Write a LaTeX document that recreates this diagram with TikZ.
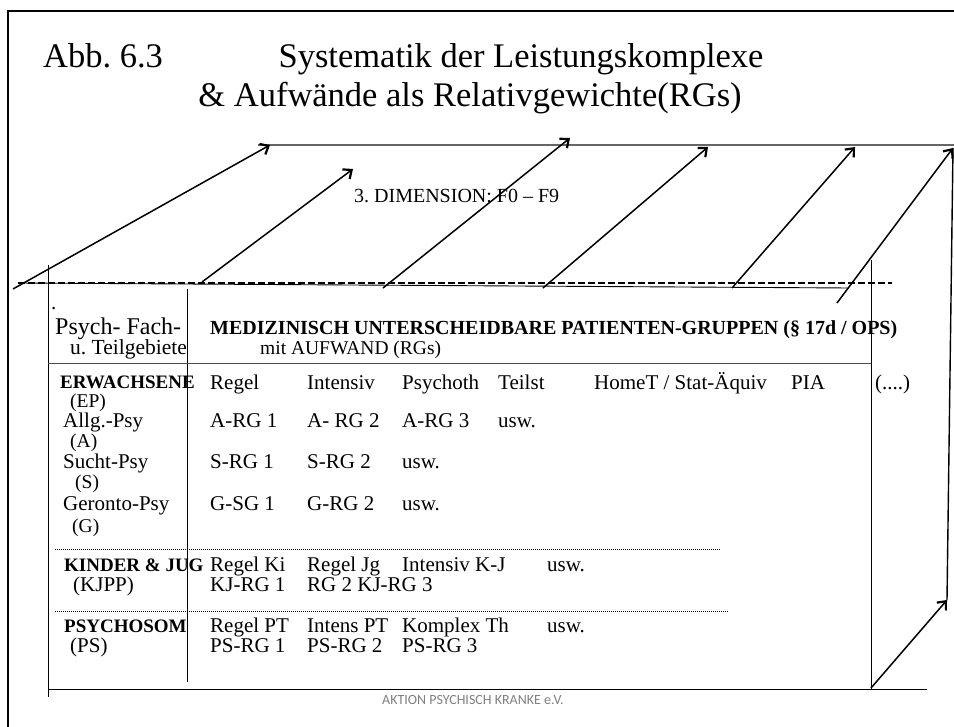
\documentclass[tikz,border=0pt]{standalone}
\usepackage{fontspec}
\setmainfont{Liberation Serif}
\newfontfamily\footfont{Carlito}
\usetikzlibrary{arrows.meta}
\frenchspacing
\begin{document}
\frenchspacing
\begin{tikzpicture}[x=1pt,y=-1pt,
  txt/.style={anchor=base west,inner sep=0pt,font=\fontsize{21}{25}\selectfont},
  sub/.style={anchor=base west,inner sep=0pt,font=\fontsize{19.5}{23}\selectfont},
  bld/.style={anchor=base west,inner sep=0pt,font=\bfseries\fontsize{19}{23}\selectfont},
  ttl/.style={anchor=base,inner sep=0pt,font=\fontsize{34.5}{40}\selectfont},
  arr/.style={line width=1.5pt,-{Straight Barb[length=7pt,width=12pt,line width=2.2pt]}},
  boxline/.style={line width=0.9pt},
  dotline/.style={line width=1pt,dash pattern=on 1pt off 1pt},
  dashline/.style={line width=1.8pt,dash pattern=on 7pt off 3pt},
  fold/.style={line width=1.4pt}]
\useasboundingbox (0,0) rectangle (954,727);
\fill[white] (0,0) rectangle (954,727);
% frame
\draw[line width=2.6pt] (8,727) -- (8,11) -- (954,11);
% title
\node[ttl,anchor=base west] (abb) at (43,68) {Abb. 6.3};
\node[ttl] (t1) at (521,68) {Systematik der Leistungskomplexe};
\node[ttl] (t2) at (470,107) {\& Aufwände als Relativgewichte(RGs)};
% third dimension
\node[anchor=base west,inner sep=0pt,font=\fontsize{20}{24}\selectfont] (dim) at (354,203) {3. DIMENSION: F0 – F9};
% top (back) edge
\draw[gray!80!black,line width=1.8pt] (258,145) -- (954,145);
% coordinates for arrows
\coordinate (s1) at (13,289);  \coordinate (e1) at (270,145);
\coordinate (s2) at (202,282); \coordinate (e2) at (353,169);
\coordinate (s3) at (383,288); \coordinate (e3) at (570,138);
\coordinate (s4) at (543,288); \coordinate (e4) at (708,147);
\coordinate (s5) at (732,288); \coordinate (e5) at (855,147);
\coordinate (s6) at (837,303); \coordinate (e6) at (953,148);
\coordinate (s7) at (871,688); \coordinate (e7) at (947,600);
\draw[arr] (s1) -- (e1);
\draw[arr] (s2) -- (e2);
\draw[arr] (s3) -- (e3);
\draw[arr] (s4) -- (e4);
\draw[arr] (s5) -- (e5);
\draw[arr] (s6) -- (e6);
\draw[arr] (s7) -- (e7);
\draw[fold] (e7) -- (e6);
% front edge lines
\coordinate (dl) at (18,283); \coordinate (dr) at (892,283);
\draw[line width=0.9pt] (dl) -- (849,288);
\draw[dashline] (dl) -- (dr);
% box
\coordinate (bl) at (48,689); \coordinate (br) at (927,689);
\draw[boxline] (48,265) -- (48,697);
\draw[boxline] (187,289) -- (187,682);
\draw[boxline] (871,260) -- (871,689);
\draw[boxline] (bl) -- (br);
\draw[boxline,gray!60!black] (48,363) -- (871,363);
\draw[dotline] (55,549) -- (720,549);
\draw[dotline] (55,611) -- (728,611);
% header
\node[txt] (dot) at (51,310) {.};
\node[txt,font=\fontsize{24}{28}\selectfont] (h1) at (55,335) {Psych- Fach-};
\node[txt,font=\fontsize{21.5}{25}\selectfont] (h2) at (70,355) {u. Teilgebiete};
\node[bld,font=\bfseries\fontsize{20}{24}\selectfont] (h3) at (210,335) {MEDIZINISCH UNTERSCHEIDBARE PATIENTEN-GRUPPEN (§ 17d / OPS)};
\node[txt,font=\fontsize{19.5}{24}\selectfont] (h4) at (260,355) {mit AUFWAND (RGs)};
% row EP
\node[bld] (r1a) at (60,389) {ERWACHSENE};
\node[txt] (r1b) at (210,390) {Regel};
\node[txt] (r1c) at (307,390) {Intensiv};
\node[txt] (r1d) at (402,390) {Psychoth};
\node[txt] (r1e) at (498,390) {Teilst};
\node[txt] (r1f) at (594,390) {HomeT / Stat-Äquiv};
\node[txt] (r1g) at (791,390) {PIA};
\node[txt] (r1h) at (875,390) {(....)};
\node[sub] (r1i) at (70,408) {(EP)};
% Allg
\node[txt] (r2a) at (63,428) {Allg.-Psy};
\node[txt] (r2b) at (210,428) {A-RG 1};
\node[txt] (r2c) at (307,428) {A- RG 2};
\node[txt] (r2d) at (402,428) {A-RG 3};
\node[txt] (r2e) at (498,428) {usw.};
\node[sub] (r2f) at (70,447) {(A)};
% Sucht
\node[txt] (r3a) at (63,468) {Sucht-Psy};
\node[txt] (r3b) at (210,468) {S-RG 1};
\node[txt] (r3c) at (307,468) {S-RG 2};
\node[txt] (r3d) at (402,468) {usw.};
\node[sub] (r3e) at (75,488) {(S)};
% Geronto
\node[txt] (r4a) at (63,510) {Geronto-Psy};
\node[txt] (r4b) at (210,510) {G-SG 1};
\node[txt] (r4c) at (307,510) {G-RG 2};
\node[txt] (r4d) at (402,510) {usw.};
\node[sub] (r4e) at (72,532) {(G)};
% KJPP
\node[bld] (r5a) at (64,571) {KINDER \& JUG};
\node[txt] (r5b) at (210,571) {Regel Ki};
\node[txt] (r5c) at (307,571) {Regel Jg};
\node[txt] (r5d) at (402,571) {Intensiv K-J};
\node[txt] (r5e) at (547,571) {usw.};
\node[txt] (r5f) at (73,591) {(KJPP)};
\node[txt] (r5g) at (210,591) {KJ-RG 1};
\node[txt] (r5h) at (307,591) {RG 2 KJ-RG 3};
% PS
\node[bld] (r6a) at (64,632) {PSYCHOSOM};
\node[txt] (r6b) at (210,632) {Regel PT};
\node[txt] (r6c) at (307,632) {Intens PT};
\node[txt] (r6d) at (402,632) {Komplex Th};
\node[txt] (r6e) at (547,632) {usw.};
\node[txt] (r6f) at (70,652) {(PS)};
\node[txt] (r6g) at (210,652) {PS-RG 1};
\node[txt] (r6h) at (307,652) {PS-RG 2};
\node[txt] (r6i) at (402,652) {PS-RG 3};
% footer
\node[anchor=base west,inner sep=0pt,text=gray,font=\footfont\fontsize{14}{16}\selectfont] (foot) at (382,704) {AKTION PSYCHISCH KRANKE e.V.};
\end{tikzpicture}
\end{document}
